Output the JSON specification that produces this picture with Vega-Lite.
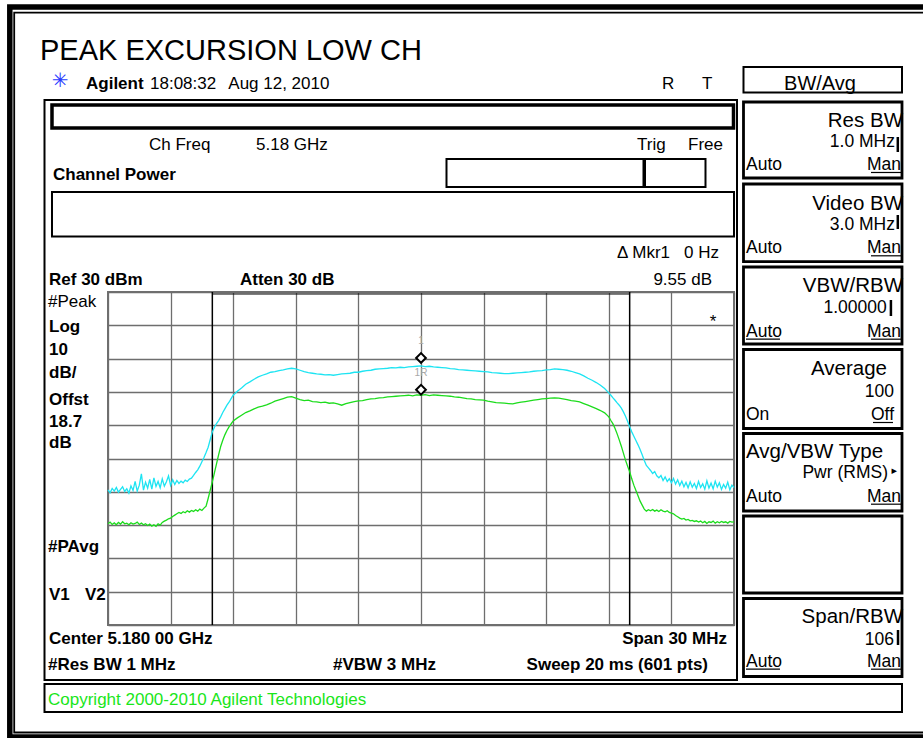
{
  "$schema": "https://vega.github.io/schema/vega-lite/v6.json",
  "width": 626,
  "height": 333,
  "autosize": {"type": "none"},
  "padding": {"left": 108, "top": 292, "right": 189, "bottom": 113},
  "background": "white",
  "config": {
    "font": "Liberation Sans",
    "view": {"stroke": "#707070", "strokeWidth": 2}
  },
  "datasets": {
    "traces": [
      {"f":5165.0,"Peak":-29.4,"Average":-39.6},{"f":5165.1,"Peak":-30.3,"Average":-39.1},{"f":5165.2,"Peak":-29.0,"Average":-39.8},{"f":5165.3,"Peak":-29.8,"Average":-39.3},{"f":5165.4,"Peak":-28.7,"Average":-39.9},{"f":5165.5,"Peak":-30.1,"Average":-39.2},{"f":5165.6,"Peak":-29.3,"Average":-39.7},{"f":5165.7,"Peak":-28.5,"Average":-39.0},{"f":5165.8,"Peak":-29.9,"Average":-39.6},{"f":5165.9,"Peak":-29.1,"Average":-39.4},
      {"f":5166.0,"Peak":-30.4,"Average":-39.9},{"f":5166.1,"Peak":-28.2,"Average":-39.3},{"f":5166.2,"Peak":-29.6,"Average":-39.7},{"f":5166.3,"Peak":-26.9,"Average":-39.5},{"f":5166.4,"Peak":-29.8,"Average":-39.1},{"f":5166.5,"Peak":-28.0,"Average":-39.8},{"f":5166.6,"Peak":-24.6,"Average":-39.4},{"f":5166.7,"Peak":-29.5,"Average":-39.9},{"f":5166.8,"Peak":-27.1,"Average":-39.6},{"f":5166.9,"Peak":-28.9,"Average":-40.1},
      {"f":5167.0,"Peak":-26.3,"Average":-39.7},{"f":5167.1,"Peak":-29.2,"Average":-40.3},{"f":5167.2,"Peak":-25.8,"Average":-39.9},{"f":5167.3,"Peak":-28.4,"Average":-40.4},{"f":5167.4,"Peak":-26.9,"Average":-39.6},{"f":5167.5,"Peak":-28.8,"Average":-40.0},{"f":5167.6,"Peak":-26.1,"Average":-39.2},{"f":5167.7,"Peak":-28.3,"Average":-38.8},{"f":5167.8,"Peak":-27.0,"Average":-38.5},{"f":5167.9,"Peak":-25.2,"Average":-38.1},
      {"f":5168.0,"Peak":-28.1,"Average":-37.9},{"f":5168.1,"Peak":-26.4,"Average":-37.4},{"f":5168.2,"Peak":-27.8,"Average":-37.0},{"f":5168.3,"Peak":-26.6,"Average":-36.6},{"f":5168.4,"Peak":-27.5,"Average":-36.2},{"f":5168.5,"Peak":-26.8,"Average":-36.5},{"f":5168.6,"Peak":-27.3,"Average":-36.0},{"f":5168.7,"Peak":-26.5,"Average":-36.3},{"f":5168.8,"Peak":-26.9,"Average":-35.7},{"f":5168.9,"Peak":-26.2,"Average":-36.1},
      {"f":5169.0,"Peak":-25.9,"Average":-35.6},{"f":5169.1,"Peak":-25.1,"Average":-35.9},{"f":5169.2,"Peak":-24.2,"Average":-35.4},{"f":5169.3,"Peak":-23.4,"Average":-35.8},{"f":5169.4,"Peak":-22.3,"Average":-35.2},{"f":5169.5,"Peak":-21.0,"Average":-35.6},{"f":5169.6,"Peak":-19.7,"Average":-34.9},{"f":5169.7,"Peak":-18.2,"Average":-34.3},{"f":5169.8,"Peak":-16.6,"Average":-32.0},{"f":5169.9,"Peak":-14.3,"Average":-29.5},
      {"f":5170.0,"Peak":-12.0,"Average":-27.0},{"f":5170.1,"Peak":-10.6,"Average":-24.3},{"f":5170.2,"Peak":-9.5,"Average":-21.6},{"f":5170.3,"Peak":-8.6,"Average":-18.9},{"f":5170.4,"Peak":-7.5,"Average":-16.4},{"f":5170.5,"Peak":-6.2,"Average":-14.5},{"f":5170.6,"Peak":-5.1,"Average":-12.9},{"f":5170.7,"Peak":-4.0,"Average":-11.6},{"f":5170.8,"Peak":-3.1,"Average":-10.5},{"f":5170.9,"Peak":-2.0,"Average":-9.6},
      {"f":5171.0,"Peak":-1.0,"Average":-8.7},{"f":5171.2,"Peak":0.2,"Average":-7.8},{"f":5171.4,"Peak":1.2,"Average":-7.0},{"f":5171.6,"Peak":2.3,"Average":-6.2},{"f":5171.8,"Peak":3.0,"Average":-5.7},
      {"f":5172.0,"Peak":3.8,"Average":-5.1},{"f":5172.2,"Peak":4.5,"Average":-4.6},{"f":5172.4,"Peak":5.0,"Average":-4.3},{"f":5172.6,"Peak":5.4,"Average":-3.9},{"f":5172.8,"Peak":5.9,"Average":-3.4},
      {"f":5173.0,"Peak":6.1,"Average":-2.8},{"f":5173.2,"Peak":6.4,"Average":-2.4},{"f":5173.4,"Peak":6.6,"Average":-2.0},{"f":5173.6,"Peak":6.9,"Average":-1.6},{"f":5173.8,"Peak":7.1,"Average":-1.4},
      {"f":5174.0,"Peak":6.9,"Average":-1.9},{"f":5174.2,"Peak":6.5,"Average":-2.3},{"f":5174.4,"Peak":6.1,"Average":-2.6},{"f":5174.6,"Peak":5.8,"Average":-2.5},{"f":5174.8,"Peak":5.6,"Average":-2.9},
      {"f":5175.0,"Peak":5.4,"Average":-3.0},{"f":5175.2,"Peak":5.3,"Average":-3.2},{"f":5175.4,"Peak":5.1,"Average":-3.1},{"f":5175.6,"Peak":5.2,"Average":-3.4},{"f":5175.8,"Peak":5.0,"Average":-3.3},
      {"f":5176.0,"Peak":5.2,"Average":-3.6},{"f":5176.2,"Peak":5.4,"Average":-4.0},{"f":5176.4,"Peak":5.5,"Average":-3.5},{"f":5176.6,"Peak":5.6,"Average":-3.2},{"f":5176.8,"Peak":5.9,"Average":-2.9},
      {"f":5177.0,"Peak":5.9,"Average":-2.7},{"f":5177.2,"Peak":6.2,"Average":-2.6},{"f":5177.4,"Peak":6.4,"Average":-2.3},{"f":5177.6,"Peak":6.5,"Average":-2.1},{"f":5177.8,"Peak":6.8,"Average":-2.0},
      {"f":5178.0,"Peak":6.9,"Average":-1.8},{"f":5178.2,"Peak":7.0,"Average":-1.7},{"f":5178.4,"Peak":7.1,"Average":-1.5},{"f":5178.6,"Peak":7.3,"Average":-1.4},{"f":5178.8,"Peak":7.2,"Average":-1.3},
      {"f":5179.0,"Peak":7.4,"Average":-1.2},{"f":5179.2,"Peak":7.3,"Average":-1.1},{"f":5179.4,"Peak":7.5,"Average":-1.0},{"f":5179.6,"Peak":7.6,"Average":-1.2},{"f":5179.8,"Peak":7.7,"Average":-0.9},
      {"f":5180.0,"Peak":7.8,"Average":-1.0},{"f":5180.2,"Peak":7.6,"Average":-0.8},{"f":5180.4,"Peak":7.7,"Average":-1.1},{"f":5180.6,"Peak":7.5,"Average":-0.9},{"f":5180.8,"Peak":7.4,"Average":-1.0},
      {"f":5181.0,"Peak":7.3,"Average":-1.1},{"f":5181.2,"Peak":7.2,"Average":-1.2},{"f":5181.4,"Peak":7.0,"Average":-1.3},{"f":5181.6,"Peak":6.9,"Average":-1.5},{"f":5181.8,"Peak":6.7,"Average":-1.6},
      {"f":5182.0,"Peak":6.6,"Average":-1.8},{"f":5182.2,"Peak":6.5,"Average":-2.0},{"f":5182.4,"Peak":6.4,"Average":-2.1},{"f":5182.6,"Peak":6.3,"Average":-2.3},{"f":5182.8,"Peak":6.2,"Average":-2.4},
      {"f":5183.0,"Peak":6.1,"Average":-2.5},{"f":5183.2,"Peak":6.0,"Average":-2.8},{"f":5183.4,"Peak":5.8,"Average":-3.0},{"f":5183.6,"Peak":5.7,"Average":-3.2},{"f":5183.8,"Peak":5.6,"Average":-3.3},
      {"f":5184.0,"Peak":5.5,"Average":-3.4},{"f":5184.2,"Peak":5.5,"Average":-3.5},{"f":5184.4,"Peak":5.6,"Average":-3.6},{"f":5184.6,"Peak":5.7,"Average":-3.3},{"f":5184.8,"Peak":5.8,"Average":-3.1},
      {"f":5185.0,"Peak":5.9,"Average":-2.9},{"f":5185.2,"Peak":6.0,"Average":-2.7},{"f":5185.4,"Peak":6.2,"Average":-2.5},{"f":5185.6,"Peak":6.3,"Average":-2.3},{"f":5185.8,"Peak":6.4,"Average":-2.1},
      {"f":5186.0,"Peak":6.6,"Average":-2.0},{"f":5186.2,"Peak":6.7,"Average":-1.9},{"f":5186.4,"Peak":6.9,"Average":-1.8},{"f":5186.6,"Peak":6.8,"Average":-1.9},{"f":5186.8,"Peak":6.7,"Average":-2.1},
      {"f":5187.0,"Peak":6.5,"Average":-2.3},{"f":5187.2,"Peak":6.2,"Average":-2.6},{"f":5187.4,"Peak":5.8,"Average":-2.8},{"f":5187.6,"Peak":5.4,"Average":-3.0},{"f":5187.8,"Peak":4.8,"Average":-3.5},
      {"f":5188.0,"Peak":4.1,"Average":-4.0},{"f":5188.2,"Peak":3.5,"Average":-4.5},{"f":5188.4,"Peak":2.8,"Average":-5.0},{"f":5188.6,"Peak":2.0,"Average":-5.6},{"f":5188.8,"Peak":1.0,"Average":-6.3},
      {"f":5189.0,"Peak":-0.3,"Average":-7.5},{"f":5189.1,"Peak":-1.0,"Average":-8.6},{"f":5189.2,"Peak":-1.8,"Average":-9.6},{"f":5189.3,"Peak":-2.5,"Average":-11.0},{"f":5189.4,"Peak":-3.3,"Average":-12.6},{"f":5189.5,"Peak":-4.0,"Average":-14.4},{"f":5189.6,"Peak":-4.9,"Average":-16.3},{"f":5189.7,"Peak":-6.0,"Average":-18.4},{"f":5189.8,"Peak":-7.3,"Average":-20.5},{"f":5189.9,"Peak":-8.8,"Average":-22.3},
      {"f":5190.0,"Peak":-10.5,"Average":-24.0},{"f":5190.1,"Peak":-12.0,"Average":-26.1},{"f":5190.2,"Peak":-13.3,"Average":-28.0},{"f":5190.3,"Peak":-14.6,"Average":-29.6},{"f":5190.4,"Peak":-15.9,"Average":-31.2},{"f":5190.5,"Peak":-17.3,"Average":-32.8},{"f":5190.6,"Peak":-18.9,"Average":-34.0},{"f":5190.7,"Peak":-20.6,"Average":-35.2},{"f":5190.8,"Peak":-22.1,"Average":-35.8},{"f":5190.9,"Peak":-22.8,"Average":-35.4},
      {"f":5191.0,"Peak":-23.6,"Average":-35.7},{"f":5191.1,"Peak":-24.5,"Average":-35.3},{"f":5191.2,"Peak":-23.9,"Average":-35.8},{"f":5191.3,"Peak":-25.2,"Average":-35.5},{"f":5191.4,"Peak":-25.8,"Average":-35.9},{"f":5191.5,"Peak":-25.1,"Average":-35.4},{"f":5191.6,"Peak":-26.6,"Average":-35.8},{"f":5191.7,"Peak":-25.5,"Average":-36.0},{"f":5191.8,"Peak":-26.9,"Average":-35.7},{"f":5191.9,"Peak":-26.1,"Average":-36.2},
      {"f":5192.0,"Peak":-27.3,"Average":-36.4},{"f":5192.1,"Peak":-26.0,"Average":-36.6},{"f":5192.2,"Peak":-27.7,"Average":-37.1},{"f":5192.3,"Peak":-26.4,"Average":-37.5},{"f":5192.4,"Peak":-28.1,"Average":-37.9},{"f":5192.5,"Peak":-26.8,"Average":-38.2},{"f":5192.6,"Peak":-28.5,"Average":-38.0},{"f":5192.7,"Peak":-27.2,"Average":-38.5},{"f":5192.8,"Peak":-28.8,"Average":-38.3},{"f":5192.9,"Peak":-27.0,"Average":-38.7},
      {"f":5193.0,"Peak":-28.6,"Average":-38.6},{"f":5193.1,"Peak":-27.5,"Average":-38.9},{"f":5193.2,"Peak":-29.0,"Average":-38.7},{"f":5193.3,"Peak":-26.9,"Average":-39.1},{"f":5193.4,"Peak":-28.7,"Average":-38.8},{"f":5193.5,"Peak":-27.6,"Average":-39.3},{"f":5193.6,"Peak":-29.2,"Average":-38.9},{"f":5193.7,"Peak":-26.7,"Average":-39.5},{"f":5193.8,"Peak":-28.9,"Average":-39.0},{"f":5193.9,"Peak":-27.4,"Average":-39.2},
      {"f":5194.0,"Peak":-29.1,"Average":-38.8},{"f":5194.1,"Peak":-26.8,"Average":-39.4},{"f":5194.2,"Peak":-28.6,"Average":-39.0},{"f":5194.3,"Peak":-27.3,"Average":-39.3},{"f":5194.4,"Peak":-29.3,"Average":-38.9},{"f":5194.5,"Peak":-27.8,"Average":-39.2},{"f":5194.6,"Peak":-28.9,"Average":-39.0},{"f":5194.7,"Peak":-27.1,"Average":-39.4},{"f":5194.8,"Peak":-29.4,"Average":-38.9},{"f":5194.9,"Peak":-28.0,"Average":-39.1},
      {"f":5195.0,"Peak":-28.7,"Average":-39.0}
    ],
    "markers": [
      {"f":5180,"d":10.2,"m":"1"},
      {"f":5180,"d":0.65,"m":"1R"}
    ],
    "bandEdges": [
      {"f":5170,"d":30,"d2":-70},
      {"f":5190,"d":30,"d2":-70}
    ],
    "bandSpan": [
      {"f":5170,"f2":5190,"d":29.4}
    ],
    "frameThick": [{"f":5160.294,"f2":5204.4,"d":115.59,"d2":-103.63}],
    "frameThin": [{"f":5160.505,"f2":5204.4,"d":113.87,"d2":-102.28}],
    "panels": [
      {"f":5161.957,"f2":5195.144,"d":87.66,"d2":-86.52},
      {"f":5162.316,"f2":5195.0,"d":60.03,"d2":46.67},
      {"f":5181.222,"f2":5190.663,"d":69.94,"d2":61.53},
      {"f":5190.735,"f2":5193.634,"d":69.94,"d2":61.53},
      {"f":5161.957,"f2":5203.051,"d":-87.72,"d2":-96.13},
      {"f":5195.455,"f2":5203.051,"d":97.57,"d2":89.91}
    ],
    "msgbar": [{"f":5162.316,"f2":5194.976,"d":86.16,"d2":79.25}],
    "softkeys": [
      {"f":5195.455,"f2":5203.051,"d":87.06,"d2":64.23},
      {"f":5195.455,"f2":5203.051,"d":62.43,"d2":39.10},
      {"f":5195.455,"f2":5203.051,"d":37.51,"d2":14.38},
      {"f":5195.455,"f2":5203.051,"d":12.73,"d2":-10.99},
      {"f":5195.455,"f2":5203.051,"d":-12.49,"d2":-35.77},
      {"f":5195.455,"f2":5203.051,"d":-37.27,"d2":-60.39},
      {"f":5195.455,"f2":5203.051,"d":-62.04,"d2":-85.47}
    ],
    "underlines": [
      {"f":5201.565,"f2":5203.003,"d":65.89},
      {"f":5201.565,"f2":5203.003,"d":40.87},
      {"f":5195.575,"f2":5197.204,"d":15.83},
      {"f":5201.565,"f2":5203.003,"d":15.83},
      {"f":5201.661,"f2":5202.620,"d":-9.19},
      {"f":5201.565,"f2":5203.003,"d":-33.72},
      {"f":5195.575,"f2":5197.204,"d":-83.27},
      {"f":5201.565,"f2":5203.003,"d":-83.27}
    ],
    "bars": [
      {"f":5202.85,"d":76.55,"d2":72.04},
      {"f":5202.85,"d":53.12,"d2":48.92},
      {"f":5202.52,"d":27.60,"d2":22.79},
      {"f":5202.86,"d":-71.5,"d2":-76.01}
    ],
    "title": [{"f":5161.741,"d":99.67,"t":"PEAK EXCURSION LOW CH"}],
    "logo": [{"f":5162.7,"d":93.36,"t":"✳"}],
    "regLeft": [
      {"f":5167.013,"d":90.96,"t":"18:08:32"},
      {"f":5170.765,"d":90.96,"t":"Aug 12, 2010"},
      {"f":5191.549,"d":90.96,"t":"R"},
      {"f":5193.466,"d":90.96,"t":"T"},
      {"f":5166.965,"d":72.64,"t":"Ch Freq"},
      {"f":5172.093,"d":72.64,"t":"5.18 GHz"},
      {"f":5190.351,"d":72.64,"t":"Trig"},
      {"f":5192.796,"d":72.64,"t":"Free"},
      {"f":5162.125,"d":25.59,"t":"#Peak"}
    ],
    "boldLeft": [
      {"f":5163.946,"d":90.96,"t":"Agilent"},
      {"f":5162.364,"d":63.63,"t":"Channel Power"},
      {"f":5162.173,"d":32.10,"t":"Ref 30 dBm"},
      {"f":5171.326,"d":32.10,"t":"Atten 30 dB"},
      {"f":5162.173,"d":18.08,"t":"Log"},
      {"f":5162.173,"d":11.08,"t":"10"},
      {"f":5162.173,"d":4.08,"t":"dB/"},
      {"f":5162.173,"d":-3.93,"t":"Offst"},
      {"f":5162.173,"d":-10.45,"t":"18.7"},
      {"f":5162.173,"d":-16.94,"t":"dB"},
      {"f":5162.125,"d":-47.99,"t":"#PAvg"},
      {"f":5162.173,"d":-62.49,"t":"V1"},
      {"f":5163.898,"d":-62.49,"t":"V2"},
      {"f":5162.173,"d":-75.71,"t":"Center 5.180 00 GHz"},
      {"f":5162.125,"d":-83.51,"t":"#Res BW 1 MHz"},
      {"f":5175.783,"d":-83.51,"t":"#VBW 3 MHz"}
    ],
    "boldRight": [
      {"f":5194.664,"d":-75.71,"t":"Span 30 MHz"},
      {"f":5193.754,"d":-83.51,"t":"Sweep 20 ms (601 pts)"}
    ],
    "regRight": [
      {"f":5191.933,"d":40.21,"t":"Δ Mkr1"},
      {"f":5194.281,"d":40.21,"t":"0 Hz"},
      {"f":5193.946,"d":32.10,"t":"9.55 dB"}
    ],
    "keyTitleRight": [
      {"f":5203.099,"d":79.55,"t":"Res BW"},
      {"f":5203.099,"d":54.77,"t":"Video BW"},
      {"f":5203.099,"d":30.0,"t":"VBW/RBW"},
      {"f":5202.332,"d":5.08,"t":"Average"},
      {"f":5203.099,"d":-69.49,"t":"Span/RBW"}
    ],
    "keyTitleCenter": [{"f":5199.121,"d":90.81,"t":"BW/Avg"}],
    "keyTitleLeft": [{"f":5195.575,"d":-19.94,"t":"Avg/VBW Type"}],
    "keyValRight": [
      {"f":5202.715,"d":73.45,"t":"1.0 MHz"},
      {"f":5202.715,"d":48.62,"t":"3.0 MHz"},
      {"f":5202.318,"d":23.60,"t":"1.00000"},
      {"f":5202.668,"d":-1.44,"t":"100"},
      {"f":5202.38,"d":-25.95,"t":"Pwr (RMS)"},
      {"f":5202.668,"d":-76.01,"t":"106"},
      {"f":5203.003,"d":66.64,"t":"Man"},
      {"f":5203.003,"d":41.62,"t":"Man"},
      {"f":5203.003,"d":16.58,"t":"Man"},
      {"f":5202.668,"d":-8.44,"t":"Off"},
      {"f":5203.003,"d":-32.97,"t":"Man"},
      {"f":5203.003,"d":-82.52,"t":"Man"}
    ],
    "keyValLeft": [
      {"f":5195.575,"d":66.64,"t":"Auto"},
      {"f":5195.575,"d":41.62,"t":"Auto"},
      {"f":5195.575,"d":16.58,"t":"Auto"},
      {"f":5195.575,"d":-8.44,"t":"On"},
      {"f":5195.575,"d":-32.97,"t":"Auto"},
      {"f":5195.575,"d":-82.52,"t":"Auto"}
    ],
    "tri": [{"f":5202.811,"d":-24.6,"t":"▸"}],
    "star": [{"f":5193.994,"d":19.49,"t":"*"}],
    "copyright": [{"f":5162.125,"d":-94.02,"t":"Copyright 2000-2010 Agilent Technologies"}]
  },
  "encoding": {
    "x": {
      "field": "f", "type": "quantitative",
      "scale": {"domain": [5165, 5195], "nice": false, "zero": false},
      "axis": {"values": [5165,5168,5171,5174,5177,5180,5183,5186,5189,5192,5195], "grid": true, "labels": false, "ticks": false, "domain": false, "title": null, "gridColor": "#6e6e6e", "gridWidth": 1.3, "gridOpacity": 1}
    },
    "y": {
      "field": "d", "type": "quantitative",
      "scale": {"domain": [-70, 30], "nice": false, "zero": false},
      "axis": {"values": [-70,-60,-50,-40,-30,-20,-10,0,10,20,30], "grid": true, "labels": false, "ticks": false, "domain": false, "title": null, "gridColor": "#6e6e6e", "gridWidth": 1.3, "gridOpacity": 1}
    }
  },
  "layer": [
    {"data": {"name": "frameThick"}, "mark": {"type": "rect", "filled": false, "stroke": "black", "strokeWidth": 5.5}, "encoding": {"x2": {"field": "f2"}, "y2": {"field": "d2"}}},
    {"data": {"name": "frameThin"}, "mark": {"type": "rect", "filled": false, "stroke": "black", "strokeWidth": 1.8}, "encoding": {"x2": {"field": "f2"}, "y2": {"field": "d2"}}},
    {"data": {"name": "panels"}, "mark": {"type": "rect", "filled": false, "stroke": "black", "strokeWidth": 2}, "encoding": {"x2": {"field": "f2"}, "y2": {"field": "d2"}}},
    {"data": {"name": "msgbar"}, "mark": {"type": "rect", "filled": false, "stroke": "black", "strokeWidth": 3.5}, "encoding": {"x2": {"field": "f2"}, "y2": {"field": "d2"}}},
    {"data": {"name": "softkeys"}, "mark": {"type": "rect", "filled": false, "stroke": "black", "strokeWidth": 2.8}, "encoding": {"x2": {"field": "f2"}, "y2": {"field": "d2"}}},
    {"data": {"name": "underlines"}, "mark": {"type": "rule", "color": "black", "strokeWidth": 1.2}, "encoding": {"x2": {"field": "f2"}}},
    {"data": {"name": "bars"}, "mark": {"type": "rule", "color": "black", "strokeWidth": 2.5}, "encoding": {"y2": {"field": "d2"}}},
    {"data": {"name": "bandEdges"}, "mark": {"type": "rule", "color": "black", "strokeWidth": 1.5}, "encoding": {"y2": {"field": "d2"}}},
    {"data": {"name": "bandSpan"}, "mark": {"type": "rule", "color": "black", "strokeWidth": 1.2}, "encoding": {"x2": {"field": "f2"}}},
    {
      "data": {"name": "traces"},
      "transform": [{"fold": ["Peak", "Average"], "as": ["trace", "d"]}],
      "mark": {"type": "line", "strokeWidth": 1.3},
      "encoding": {
        "color": {"field": "trace", "type": "nominal", "scale": {"domain": ["Peak", "Average"], "range": ["#1de4f2", "#1cdc1c"]}, "legend": null}
      }
    },
    {"data": {"name": "markers"}, "mark": {"type": "point", "shape": "diamond", "size": 95, "filled": true, "fill": "white", "stroke": "black", "strokeWidth": 2, "opacity": 1}},
    {"data": {"name": "markers"}, "mark": {"type": "text", "dy": -17, "fontSize": 10, "color": "#a8a8a8", "align": "center", "baseline": "middle"}, "encoding": {"text": {"field": "m"}}},
    {"data": {"name": "title"}, "mark": {"type": "text", "align": "left", "baseline": "alphabetic", "fontSize": 29, "color": "black"}, "encoding": {"text": {"field": "t"}}},
    {"data": {"name": "logo"}, "mark": {"type": "text", "align": "center", "baseline": "middle", "fontSize": 20, "font": "DejaVu Sans", "color": "#2a3cff"}, "encoding": {"text": {"field": "t"}}},
    {"data": {"name": "regLeft"}, "mark": {"type": "text", "align": "left", "baseline": "alphabetic", "fontSize": 17, "color": "black"}, "encoding": {"text": {"field": "t"}}},
    {"data": {"name": "boldLeft"}, "mark": {"type": "text", "align": "left", "baseline": "alphabetic", "fontSize": 17, "fontWeight": "bold", "color": "black"}, "encoding": {"text": {"field": "t"}}},
    {"data": {"name": "boldRight"}, "mark": {"type": "text", "align": "right", "baseline": "alphabetic", "fontSize": 17, "fontWeight": "bold", "color": "black"}, "encoding": {"text": {"field": "t"}}},
    {"data": {"name": "regRight"}, "mark": {"type": "text", "align": "right", "baseline": "alphabetic", "fontSize": 17, "color": "black"}, "encoding": {"text": {"field": "t"}}},
    {"data": {"name": "keyTitleRight"}, "mark": {"type": "text", "align": "right", "baseline": "alphabetic", "fontSize": 20.5, "color": "black"}, "encoding": {"text": {"field": "t"}}},
    {"data": {"name": "keyTitleCenter"}, "mark": {"type": "text", "align": "center", "baseline": "alphabetic", "fontSize": 20, "color": "black"}, "encoding": {"text": {"field": "t"}}},
    {"data": {"name": "keyTitleLeft"}, "mark": {"type": "text", "align": "left", "baseline": "alphabetic", "fontSize": 20.5, "color": "black"}, "encoding": {"text": {"field": "t"}}},
    {"data": {"name": "keyValRight"}, "mark": {"type": "text", "align": "right", "baseline": "alphabetic", "fontSize": 17.5, "color": "black"}, "encoding": {"text": {"field": "t"}}},
    {"data": {"name": "keyValLeft"}, "mark": {"type": "text", "align": "left", "baseline": "alphabetic", "fontSize": 17.5, "color": "black"}, "encoding": {"text": {"field": "t"}}},
    {"data": {"name": "tri"}, "mark": {"type": "text", "align": "right", "baseline": "alphabetic", "fontSize": 11, "font": "DejaVu Sans", "color": "black"}, "encoding": {"text": {"field": "t"}}},
    {"data": {"name": "star"}, "mark": {"type": "text", "align": "center", "baseline": "alphabetic", "fontSize": 17, "color": "black"}, "encoding": {"text": {"field": "t"}}},
    {"data": {"name": "copyright"}, "mark": {"type": "text", "align": "left", "baseline": "alphabetic", "fontSize": 17, "color": "#19e619"}, "encoding": {"text": {"field": "t"}}}
  ]
}
